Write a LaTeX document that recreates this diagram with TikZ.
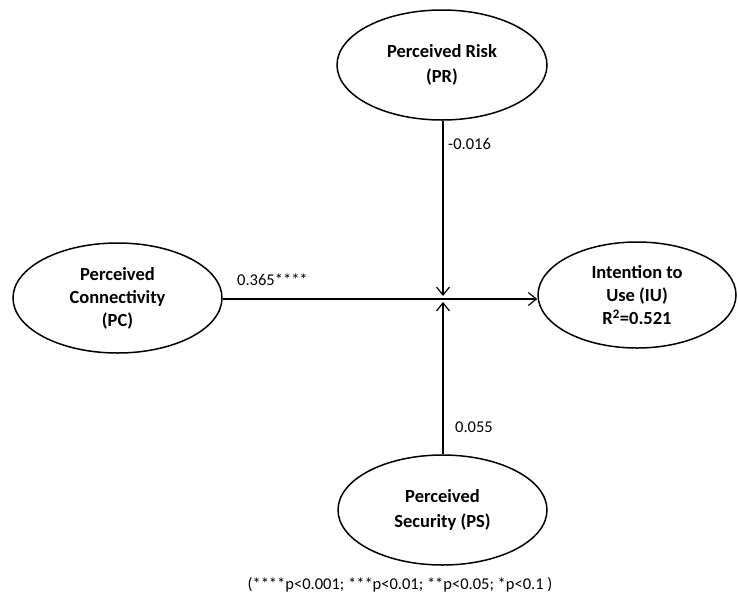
\documentclass[tikz,border=0pt]{standalone}
\usepackage{fontspec}
\setmainfont{Carlito}
\usetikzlibrary{shapes.geometric,arrows.meta}

\begin{document}
\begin{tikzpicture}[x=1pt,y=-1pt,
	construct/.style={ellipse,draw,line width=1.5pt,inner sep=0pt,align=center,font=\fontsize{18.5}{23}\selectfont\bfseries},
	path/.style={line width=1.2pt,-{Straight Barb[length=8pt,width=13pt,line width=1.2pt]}},
	coef/.style={font=\fontsize{16.5}{19}\selectfont}]
\useasboundingbox (0,0) rectangle (738,595);
\node[construct,minimum width=210pt,minimum height=110pt,font=\fontsize{18.5}{25}\selectfont\bfseries] (pr) at (442,65) {Perceived Risk\\(PR)};
\node[construct,minimum width=209pt,minimum height=110pt] (pc) at (117.5,298) {Perceived\\Connectivity\\(PC)};
\node[construct,minimum width=198pt,minimum height=106pt] (iu) at (637,295) {Intention to\\Use (IU)\\R\textsuperscript{2}=0.521};
\node[construct,minimum width=209pt,minimum height=110pt,font=\fontsize{18.5}{25}\selectfont\bfseries] (ps) at (442.5,510) {Perceived\\Security (PS)};
\coordinate (top) at (443,296);
\coordinate (bot) at (443,302);
\draw [path] (pc.east |- 0,299) -- (iu.west |- 0,299);
\draw [path] (pr.south -| 443,0) -- (top);
\draw [path] (ps.north -| 443,0) -- (bot);
\node[coef,anchor=west,inner sep=0pt] (l1) at (448,144) {-0.016};
\node[coef,anchor=west,inner sep=0pt] (l2) at (237,280) {0.365****};
\node[coef,anchor=west,inner sep=0pt] (l3) at (455,427) {0.055};
\node[coef,inner sep=0pt] (note) at (400,585) {(****p<0.001; ***p<0.01; **p<0.05; *p<0.1 )};
\end{tikzpicture}
\end{document}
